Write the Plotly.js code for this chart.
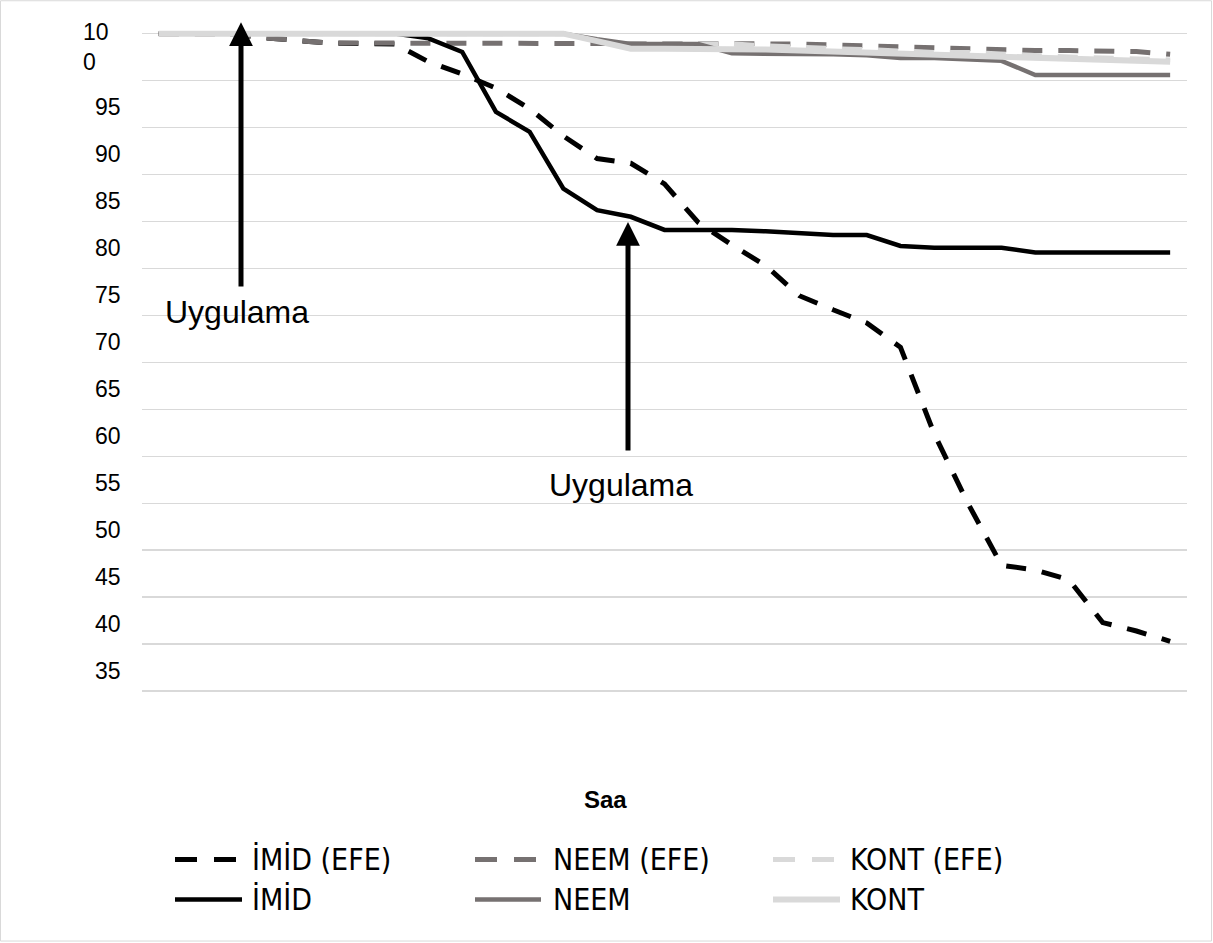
<!DOCTYPE html>
<html><head><meta charset="utf-8">
<script src="https://cdn.plot.ly/plotly-3.0.1.min.js"></script>
<style>html,body{margin:0;padding:0;background:#fff}</style>
</head><body><div id="chart" style="width:1213px;height:943px"></div>
<script>
// ---- data ----
const saat = [1,2,3,4,5,6,7,8,9,10,11,12,13,14,15,16,17,18,19,20,21,22,23,24,25,26,27,28,29,30,31];
const imidEfe = [100,100,100,99.6,99.3,99.0,98.95,98.9,97.0,95.7,94.2,92.0,89.1,86.7,86.2,84.0,79.9,77.5,75.3,72.1,70.6,69.2,66.6,57.4,50.0,43.4,42.9,41.85,37.3,36.4,35.3];
const neemEfe = [100,100,100,99.6,99.3,99.0,99.0,99.0,99.0,99.0,99.0,99.0,99.0,99.0,99.0,99.0,99.0,99.0,99.0,98.9,98.8,98.7,98.5,98.4,98.3,98.2,98.2,98.2,98.2,98.1,97.8];
const kontEfe = [100,100,100,100,100,100,100,100,100,100,100,100,100,99.3,98.9,98.9,98.9,98.9,98.7,98.5,98.4,98.3,98.1,98.0,98.0,97.8,97.6,97.5,97.4,97.3,97.2];
const imid = [100,100,100,100,100,100,100,100,99.5,98.05,91.67,89.54,83.5,81.2,80.5,79.1,79.1,79.1,78.95,78.75,78.55,78.55,77.4,77.2,77.2,77.2,76.7,76.7,76.7,76.7,76.7];
const neem = [100,100,100,100,100,100,100,100,100,100,100,100,100,99.4,98.9,98.9,98.9,97.9,97.9,97.9,97.8,97.7,97.4,97.4,97.3,97.1,95.6,95.6,95.6,95.6,95.6];
const kont = [100,100,100,100,100,100,100,100,100,100,100,100,100,99.2,98.4,98.4,98.4,98.4,98.3,98.2,98.1,98.0,97.8,97.7,97.7,97.6,97.5,97.4,97.3,97.2,97.0];
const seriesNames = ['İMİD (EFE)','NEEM (EFE)','KONT (EFE)','İMİD','NEEM','KONT'];
const yTickLabels = ['10<br>0','95','90','85','80','75','70','65','60','55','50','45','40','35'];
const yTickValues = [100,95,90,85,80,75,70,65,60,55,50,45,40,35];
const xTitle = 'Saa';
const noteText = 'Uygulama';

// ---- geometry (px) ----
const W = 1213, H = 943;
const PL = 142, PR = 1187;          // plot left/right
const Y100 = 33.4, PXU = 9.4;       // pixel of 100, px per unit
const YMIN = 29.8, YMAX = 100.6;
const PT = Y100 - (YMAX - 100) * PXU;
const PB = Y100 + (100 - YMIN) * PXU;
const PW = PR - PL, PH = PB - PT;
const CAT = PW / saat.length;
const px2x = p => (p - PL) / CAT - 0.5 + 1;
const py2y = p => 100 - (p - Y100) / PXU;
const ppx = p => (p - PL) / PW;     // paper x
const ppy = p => (PB - p) / PH;     // paper y

const BLACK = '#000000', DARK = '#767171', LIGHT = '#d9d9d9';
const DASH = '20px,16px';
const styles = [
  {color: BLACK, dash: DASH, width: 5},
  {color: DARK, dash: DASH, width: 5},
  {color: LIGHT, dash: DASH, width: 5},
  {color: BLACK, dash: 'solid', width: 4.5},
  {color: DARK, dash: 'solid', width: 4.5},
  {color: LIGHT, dash: 'solid', width: 6}
];
const values = [imidEfe, neemEfe, kontEfe, imid, neem, kont];
const traces = values.map((v, i) => ({
  type: 'scatter', mode: 'lines', x: saat, y: v, name: seriesNames[i],
  line: styles[i], showlegend: false, hoverinfo: 'x+y+name'
}));

const FONT = 'Liberation Sans, Arial, sans-serif';
const NARROW = 'Liberation Sans Narrow, DejaVu Sans Condensed, Liberation Sans, sans-serif';

const shapes = [];
const annotations = [];

// custom legend (2 rows x 3 cols)
const legCols = [{l0: 175, l1: 242, t: 250}, {l0: 475, l1: 541, t: 551}, {l0: 773, l1: 840, t: 848}];
const legRows = [860, 900];
seriesNames.forEach((nm, i) => {
  const c = legCols[i % 3], r = legRows[Math.floor(i / 3)];
  shapes.push({type: 'line', xref: 'paper', yref: 'paper', x0: ppx(c.l0), x1: ppx(c.l1), y0: ppy(r), y1: ppy(r),
    line: {color: styles[i].color, width: styles[i].width, dash: styles[i].dash === 'solid' ? 'solid' : '22px,17px'}});
  annotations.push({xref: 'paper', yref: 'paper', x: ppx(c.t), y: ppy(r), xanchor: 'left', yanchor: 'middle',
    text: nm, showarrow: false, font: {family: NARROW, size: 30, color: '#000'}});
});
// chart border
shapes.push({type: 'rect', xref: 'paper', yref: 'paper', x0: ppx(0.5), x1: ppx(W - 1.5), y0: ppy(H - 1.5), y1: ppy(0.5),
  line: {color: LIGHT, width: 1}, layer: 'below'});

// y tick labels (the original's labels sit below their gridlines; "100" wraps)
const LABEL_SHIFT = 2.85;
yTickValues.forEach((v, i) => {
  if (i === 0) {
    annotations.push({xref: 'paper', yref: 'y', x: ppx(81), y: py2y(46.5), xanchor: 'left', yanchor: 'middle',
      text: yTickLabels[i], align: 'left', showarrow: false, font: {family: FONT, size: 23, color: '#000'}});
  } else {
    annotations.push({xref: 'paper', yref: 'y', x: ppx(123), y: v - LABEL_SHIFT, xanchor: 'right', yanchor: 'middle',
      text: yTickLabels[i], showarrow: false, font: {family: FONT, size: 23, color: '#000'}});
  }
});

// x axis title (placed as in the original)
annotations.push({xref: 'paper', yref: 'paper', x: ppx(605), y: ppy(800), xanchor: 'center', yanchor: 'middle',
  text: '<b>' + xTitle + '</b>', showarrow: false, font: {family: FONT, size: 24, color: '#000'}});

// arrows + texts
const arrows = [{x: 241, tail: 288, tip: 22, tx: 237, ty: 312}, {x: 628, tail: 452, tip: 222, tx: 621, ty: 485}];
arrows.forEach(a => {
  annotations.push({xref: 'x', yref: 'y', axref: 'x', ayref: 'y', x: px2x(a.x), y: py2y(a.tip), ax: px2x(a.x), ay: py2y(a.tail),
    text: '', showarrow: true, arrowhead: 2, arrowsize: 0.95, arrowwidth: 5, arrowcolor: '#000'});
  annotations.push({xref: 'x', yref: 'y', x: px2x(a.tx), y: py2y(a.ty), text: noteText, showarrow: false,
    xanchor: 'center', yanchor: 'middle', font: {family: FONT, size: 32, color: '#000'}});
});

const layout = {
  width: W, height: H,
  margin: {l: PL, r: W - PR, t: PT, b: H - PB, pad: 0},
  paper_bgcolor: '#fff', plot_bgcolor: '#fff',
  showlegend: false,
  font: {family: FONT, size: 22, color: '#000'},
  xaxis: {range: [0.5, saat.length + 0.5], showticklabels: false, showgrid: false, zeroline: false, showline: false, ticks: ''},
  yaxis: {range: [YMIN, YMAX], tick0: 0, dtick: 5, showticklabels: false, gridcolor: LIGHT, gridwidth: 1.5,
    zeroline: false, showline: false, ticks: ''},
  shapes: shapes,
  annotations: annotations
};
Plotly.newPlot('chart', traces, layout, {displayModeBar: false, staticPlot: true});
</script>
</body></html>
